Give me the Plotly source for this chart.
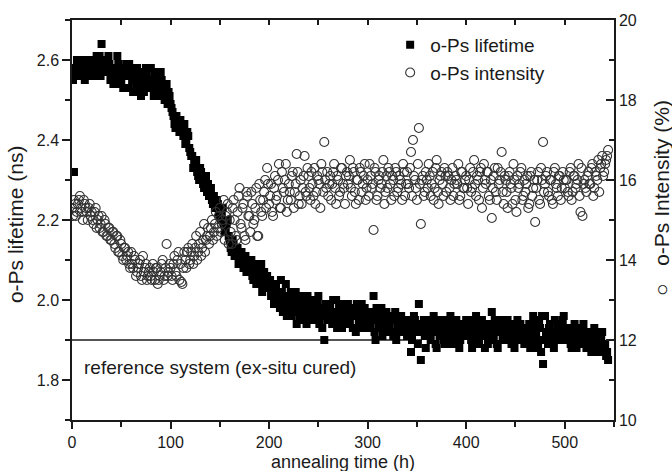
import plotly.graph_objects as go

# annealing time (h), even hours
hours = [
    0, 2, 4, 6, 8, 10, 12, 14, 16, 18,
    20, 22, 24, 26, 28, 30, 32, 34, 36, 38,
    40, 42, 44, 46, 48, 50, 52, 54, 56, 58,
    60, 62, 64, 66, 68, 70, 72, 74, 76, 78,
    80, 82, 84, 86, 88, 90, 92, 94, 96, 98,
    100, 102, 104, 106, 108, 110, 112, 114, 116, 118,
    120, 122, 124, 126, 128, 130, 132, 134, 136, 138,
    140, 142, 144, 146, 148, 150, 152, 154, 156, 158,
    160, 162, 164, 166, 168, 170, 172, 174, 176, 178,
    180, 182, 184, 186, 188, 190, 192, 194, 196, 198,
    200, 202, 204, 206, 208, 210, 212, 214, 216, 218,
    220, 222, 224, 226, 228, 230, 232, 234, 236, 238,
    240, 242, 244, 246, 248, 250, 252, 254, 256, 258,
    260, 262, 264, 266, 268, 270, 272, 274, 276, 278,
    280, 282, 284, 286, 288, 290, 292, 294, 296, 298,
    300, 302, 304, 306, 308, 310, 312, 314, 316, 318,
    320, 322, 324, 326, 328, 330, 332, 334, 336, 338,
    340, 342, 344, 346, 348, 350, 352, 354, 356, 358,
    360, 362, 364, 366, 368, 370, 372, 374, 376, 378,
    380, 382, 384, 386, 388, 390, 392, 394, 396, 398,
    400, 402, 404, 406, 408, 410, 412, 414, 416, 418,
    420, 422, 424, 426, 428, 430, 432, 434, 436, 438,
    440, 442, 444, 446, 448, 450, 452, 454, 456, 458,
    460, 462, 464, 466, 468, 470, 472, 474, 476, 478,
    480, 482, 484, 486, 488, 490, 492, 494, 496, 498,
    500, 502, 504, 506, 508, 510, 512, 514, 516, 518,
    520, 522, 524, 526, 528, 530, 532, 534, 536, 538,
    540, 542, 544,
]

# annealing time (h), odd hours
hours_odd = [
    1, 3, 5, 7, 9, 11, 13, 15, 17, 19,
    21, 23, 25, 27, 29, 31, 33, 35, 37, 39,
    41, 43, 45, 47, 49, 51, 53, 55, 57, 59,
    61, 63, 65, 67, 69, 71, 73, 75, 77, 79,
    81, 83, 85, 87, 89, 91, 93, 95, 97, 99,
    101, 103, 105, 107, 109, 111, 113, 115, 117, 119,
    121, 123, 125, 127, 129, 131, 133, 135, 137, 139,
    141, 143, 145, 147, 149, 151, 153, 155, 157, 159,
    161, 163, 165, 167, 169, 171, 173, 175, 177, 179,
    181, 183, 185, 187, 189, 191, 193, 195, 197, 199,
    201, 203, 205, 207, 209, 211, 213, 215, 217, 219,
    221, 223, 225, 227, 229, 231, 233, 235, 237, 239,
    241, 243, 245, 247, 249, 251, 253, 255, 257, 259,
    261, 263, 265, 267, 269, 271, 273, 275, 277, 279,
    281, 283, 285, 287, 289, 291, 293, 295, 297, 299,
    301, 303, 305, 307, 309, 311, 313, 315, 317, 319,
    321, 323, 325, 327, 329, 331, 333, 335, 337, 339,
    341, 343, 345, 347, 349, 351, 353, 355, 357, 359,
    361, 363, 365, 367, 369, 371, 373, 375, 377, 379,
    381, 383, 385, 387, 389, 391, 393, 395, 397, 399,
    401, 403, 405, 407, 409, 411, 413, 415, 417, 419,
    421, 423, 425, 427, 429, 431, 433, 435, 437, 439,
    441, 443, 445, 447, 449, 451, 453, 455, 457, 459,
    461, 463, 465, 467, 469, 471, 473, 475, 477, 479,
    481, 483, 485, 487, 489, 491, 493, 495, 497, 499,
    501, 503, 505, 507, 509, 511, 513, 515, 517, 519,
    521, 523, 525, 527, 529, 531, 533, 535, 537, 539,
    541, 543,
]

# o-Ps lifetime (ns) at even hours
lifetime = [
    2.57, 2.32, 2.56, 2.59, 2.58, 2.57, 2.60, 2.58, 2.56, 2.59,
    2.58, 2.60, 2.57, 2.59, 2.61, 2.64, 2.58, 2.60, 2.57, 2.59,
    2.56, 2.54, 2.58, 2.61, 2.57, 2.55, 2.53, 2.58, 2.56, 2.59,
    2.57, 2.52, 2.55, 2.58, 2.56, 2.51, 2.57, 2.54, 2.56, 2.55,
    2.58, 2.53, 2.57, 2.52, 2.55, 2.57, 2.53, 2.50, 2.54, 2.52,
    2.49, 2.47, 2.44, 2.46, 2.43, 2.45, 2.42, 2.44, 2.40, 2.41,
    2.37, 2.36, 2.34, 2.35, 2.31, 2.33, 2.30, 2.28, 2.31, 2.29,
    2.27, 2.25, 2.26, 2.23, 2.24, 2.21, 2.22, 2.19, 2.18, 2.20,
    2.15, 2.12, 2.14, 2.11, 2.13, 2.10, 2.12, 2.08, 2.11, 2.09,
    2.07, 2.10, 2.05, 2.08, 2.04, 2.06, 2.09, 2.03, 2.05, 2.06,
    2.03, 2.01, 2.04, 1.99, 2.02, 2.00, 2.05, 1.97, 2.01, 1.96,
    1.99, 2.02, 1.97, 2.00, 1.94, 1.98, 2.01, 1.96, 1.99, 1.94,
    1.97, 2.00, 1.95, 1.99, 1.96, 2.01, 1.97, 1.93, 1.90, 1.98,
    1.96, 1.99, 1.94, 1.97, 2.00, 1.95, 1.98, 1.93, 1.97, 1.95,
    1.99, 1.94, 1.97, 1.96, 1.92, 1.98, 1.95, 1.99, 1.93, 1.96,
    1.94, 1.97, 1.95, 2.01, 1.90, 1.96, 1.93, 1.98, 1.94, 1.92,
    1.96, 1.93, 1.95, 1.91, 1.97, 1.94, 1.92, 1.96, 1.93, 1.95,
    1.91, 1.94, 1.87, 1.93, 1.95, 1.92, 1.99, 1.85, 1.94, 1.91,
    1.93, 1.95, 1.90, 1.94, 1.92, 1.88, 1.95, 1.91, 1.93, 1.89,
    1.94, 1.91, 1.96, 1.92, 1.89, 1.95, 1.93, 1.90, 1.94, 1.92,
    1.95, 1.91, 1.94, 1.88, 1.93, 1.96, 1.90, 1.93, 1.95, 1.91,
    1.92, 1.89, 1.94, 1.97, 1.91, 1.93, 1.88, 1.92, 1.95, 1.90,
    1.93, 1.95, 1.91, 1.89, 1.94, 1.92, 1.95, 1.90, 1.93, 1.91,
    1.89, 1.92, 1.94, 1.90, 1.96, 1.88, 1.93, 1.95, 1.87, 1.84,
    1.96, 1.91, 1.93, 1.89, 1.92, 1.95, 1.90, 1.94, 1.91, 1.95,
    1.92, 1.90, 1.93, 1.89, 1.91, 1.94, 1.88, 1.92, 1.90, 1.93,
    1.91, 1.88, 1.92, 1.90, 1.89, 1.93, 1.87, 1.91, 1.89, 1.92,
    1.88, 1.86, 1.85,
]

# o-Ps lifetime (ns) at odd hours
lifetime_odd = [
    2.55, 2.58, 2.60, 2.56, 2.59, 2.57, 2.55, 2.60, 2.58, 2.57,
    2.59, 2.56, 2.61, 2.58, 2.56, 2.60, 2.59, 2.57, 2.61, 2.55,
    2.58, 2.57, 2.55, 2.59, 2.54, 2.58, 2.56, 2.59, 2.53, 2.57,
    2.55, 2.58, 2.53, 2.57, 2.54, 2.56, 2.52, 2.58, 2.55, 2.53,
    2.55, 2.51, 2.56, 2.54, 2.51, 2.55, 2.52, 2.54, 2.49, 2.51,
    2.48, 2.46, 2.43, 2.45, 2.42, 2.44, 2.41, 2.39, 2.42, 2.38,
    2.36, 2.33, 2.35, 2.32, 2.30, 2.32, 2.29, 2.31, 2.27, 2.26,
    2.28, 2.24, 2.23, 2.25, 2.22, 2.20, 2.23, 2.17, 2.19, 2.16,
    2.13, 2.15, 2.11, 2.13, 2.09, 2.12, 2.10, 2.11, 2.07, 2.10,
    2.08, 2.06, 2.09, 2.04, 2.07, 2.05, 2.02, 2.07, 2.04, 2.03,
    2.05, 2.02, 1.99, 2.03, 2.00, 1.98, 2.02, 1.99, 2.04, 1.98,
    2.01, 1.96, 1.99, 2.02, 1.97, 1.95, 2.00, 1.98, 1.96, 2.01,
    1.98, 1.95, 1.99, 1.97, 2.00, 1.94, 1.98, 1.96, 1.99, 1.95,
    1.98, 1.95, 2.00, 1.96, 1.93, 1.98, 1.96, 1.99, 1.94, 1.97,
    1.96, 1.98, 1.93, 1.97, 1.99, 1.94, 1.96, 1.93, 1.98, 1.95,
    1.97, 1.93, 1.96, 1.92, 1.98, 1.94, 1.96, 1.91, 1.95, 1.97,
    1.93, 1.96, 1.92, 1.95, 1.90, 1.94, 1.96, 1.92, 1.95, 1.93,
    1.95, 1.92, 1.90, 1.96, 1.93, 1.89, 1.94, 1.92, 1.95, 1.88,
    1.91, 1.94, 1.92, 1.96, 1.89, 1.93, 1.91, 1.94, 1.90, 1.95,
    1.92, 1.89, 1.94, 1.91, 1.95, 1.92, 1.88, 1.93, 1.91, 1.94,
    1.92, 1.95, 1.90, 1.93, 1.91, 1.94, 1.89, 1.95, 1.92, 1.88,
    1.94, 1.91, 1.93, 1.90, 1.95, 1.89, 1.92, 1.94, 1.91, 1.93,
    1.90, 1.92, 1.94, 1.91, 1.88, 1.93, 1.90, 1.94, 1.92, 1.89,
    1.93, 1.90, 1.88, 1.92, 1.94, 1.91, 1.89, 1.93, 1.96, 1.90,
    1.92, 1.89, 1.94, 1.91, 1.88, 1.92, 1.94, 1.90, 1.93, 1.96,
    1.90, 1.93, 1.91, 1.88, 1.92, 1.90, 1.93, 1.89, 1.91, 1.94,
    1.89, 1.92, 1.90, 1.87, 1.91, 1.89, 1.92, 1.88, 1.90, 1.87,
    1.89, 1.87,
]

# o-Ps intensity (%) at even hours
intensity = [
    15.3, 15.5, 15.1, 15.4, 15.6, 15.2, 15.5, 15.3, 15.0, 15.4,
    15.2, 14.9, 15.3, 15.0, 14.8, 15.1, 14.7, 14.9, 14.6, 14.8,
    14.5, 14.7, 14.3, 14.6, 14.2, 14.4, 14.0, 14.3, 14.1, 13.9,
    14.2, 13.8, 14.0, 13.7, 13.9, 13.6, 14.1, 13.8, 13.5, 13.7,
    13.6, 13.9, 13.5, 13.8, 13.5, 13.7, 14.0, 13.6, 14.4, 13.7,
    13.8, 13.5, 14.1, 13.6, 14.2, 13.9, 13.4, 14.2, 13.8, 14.3,
    14.0, 14.4, 14.1, 14.6, 14.2, 14.7, 14.3, 14.9, 14.5, 14.8,
    14.6, 15.0, 14.7, 15.2, 14.8, 15.3, 14.9, 15.5, 15.1, 15.4,
    15.0, 14.4, 15.5, 14.6, 15.2, 15.8, 14.8, 15.4, 14.5, 15.6,
    15.1, 15.7, 14.9, 15.3, 14.6, 15.9, 15.2, 15.5, 16.0, 16.3,
    15.4, 15.9, 15.1, 16.1, 15.6, 16.4, 15.3, 15.8, 16.0, 15.2,
    15.9, 15.5, 16.2, 15.7, 16.65, 15.4, 16.0, 15.8, 16.6, 15.6,
    16.1, 15.5, 15.9, 16.3, 15.7, 16.0, 15.3, 16.2, 16.95, 15.8,
    15.6, 16.1, 15.9, 16.4, 15.4, 16.0, 15.7, 16.3, 15.8, 16.1,
    15.9, 16.5, 15.6, 16.2, 15.4, 16.0, 16.3, 15.7, 16.1, 15.5,
    16.0, 16.4, 15.8, 14.75, 16.2, 15.6, 16.1, 15.9, 16.5, 15.7,
    15.8, 16.2, 15.5, 16.0, 16.3, 15.7, 16.1, 15.9, 16.4, 15.6,
    16.2, 15.8, 16.7, 17.0, 16.0, 15.5, 17.3, 14.9, 16.1, 15.7,
    16.0, 16.4, 15.6, 16.2, 15.8, 16.5, 15.4, 16.1, 15.9, 16.3,
    15.7, 16.1, 15.5, 16.3, 15.9, 16.0, 16.4, 15.6, 16.2, 15.8,
    16.1, 15.4, 16.3, 15.8, 16.5, 15.6, 16.0, 16.2, 15.3, 16.4,
    15.9, 16.2, 15.5, 15.05, 16.1, 15.7, 16.3, 16.0, 16.7, 15.4,
    16.0, 15.3, 16.2, 15.8, 16.4, 15.5, 16.1, 15.9, 16.3, 15.6,
    15.7, 16.1, 15.4, 16.2, 15.8, 14.95, 16.0, 15.5, 16.3, 16.95,
    15.9, 16.2, 15.6, 16.0, 15.4, 16.3, 15.8, 16.1, 15.5, 16.2,
    15.8, 16.0, 15.6, 16.3, 15.7, 16.1, 15.9, 16.4, 15.2, 15.1,
    16.0, 15.7, 16.2, 15.9, 16.4, 15.8, 16.1, 16.5, 16.3, 16.6,
    16.2, 16.5, 16.75,
]

# o-Ps intensity (%) at odd hours
intensity_odd = [
    15.1, 15.4, 15.2, 15.5, 15.3, 15.0, 15.4, 15.2, 15.3, 15.1,
    15.0, 15.2, 14.8, 15.1, 14.9, 14.7, 15.0, 14.6, 14.8, 14.5,
    14.7, 14.4, 14.6, 14.2, 14.5, 14.1, 14.3, 14.0, 14.2, 13.8,
    13.9, 14.1, 13.6, 13.8, 14.0, 13.5, 13.7, 13.9, 13.6, 13.8,
    13.5, 13.7, 13.8, 13.4, 13.6, 13.9, 13.5, 13.8, 13.6, 13.9,
    13.6, 13.9, 13.7, 14.0, 13.5, 13.45, 13.8, 14.0, 14.2, 13.9,
    14.2, 13.9, 14.3, 14.0, 14.4, 14.1, 14.5, 14.2, 14.6, 14.4,
    14.8, 14.5, 14.9, 14.6, 15.1, 14.7, 15.0, 14.5, 15.2, 14.4,
    14.7, 15.3, 15.0, 14.5, 15.6, 14.9, 15.3, 14.6, 15.7, 15.1,
    14.7, 15.4, 15.0, 15.8, 14.6, 15.5, 15.1, 15.7, 15.3, 15.9,
    15.6, 15.2, 15.8, 15.5, 16.0, 15.3, 16.2, 15.7, 16.4, 15.5,
    15.7, 16.1, 15.3, 15.9, 16.2, 15.6, 15.4, 16.1, 15.7, 16.3,
    15.8, 16.2, 15.6, 15.4, 16.1, 15.9, 16.4, 15.7, 16.0, 16.2,
    15.9, 15.5, 16.2, 15.8, 16.1, 15.6, 16.3, 15.9, 15.4, 16.2,
    16.1, 15.8, 16.3, 15.7, 16.0, 15.5, 16.2, 15.9, 16.4, 15.8,
    15.6, 16.1, 15.9, 16.3, 15.5, 16.0, 15.8, 16.2, 15.4, 16.1,
    16.3, 15.9, 16.1, 15.6, 16.2, 15.8, 16.0, 15.5, 16.2, 15.9,
    15.9, 16.3, 15.6, 16.1, 15.8, 16.4, 15.9, 16.0, 15.6, 16.2,
    15.8, 16.1, 15.9, 15.5, 16.3, 15.7, 16.0, 16.2, 15.6, 16.1,
    16.2, 15.8, 16.0, 15.6, 16.1, 15.9, 15.5, 16.2, 15.8, 16.0,
    15.8, 16.0, 15.7, 16.2, 15.9, 16.1, 15.5, 16.3, 15.8, 16.0,
    16.2, 15.6, 16.0, 15.8, 16.3, 15.5, 15.9, 16.2, 15.7, 16.1,
    15.7, 16.1, 15.9, 15.4, 16.0, 15.2, 15.8, 16.2, 15.5, 16.0,
    15.9, 15.3, 16.1, 15.6, 16.0, 15.8, 16.2, 15.4, 16.0, 15.7,
    16.1, 15.7, 16.0, 15.5, 16.2, 15.9, 15.6, 16.1, 15.8, 16.0,
    16.0, 15.7, 16.2, 15.5, 16.1, 15.8, 16.0, 15.6, 16.3, 15.9,
    15.8, 16.1, 15.9, 16.3, 15.6, 16.2, 16.0, 15.7, 16.4, 16.1,
    16.4, 16.6,
]

# reference system (ex-situ cured) level
ref_hours = [0, 355]
ref_lifetime = [1.9, 1.9]

FONT = "Liberation Sans, Arial, Helvetica, sans-serif"
INK = "#1a1a1a"

fig = go.Figure()

fig.add_trace(go.Scatter(
    x=ref_hours, y=ref_lifetime, mode="lines",
    line=dict(color=INK, width=1.3), showlegend=False, hoverinfo="skip",
))

fig.add_trace(go.Scatter(
    x=hours + hours_odd, y=lifetime + lifetime_odd, mode="markers",
    name="o-Ps lifetime",
    marker=dict(symbol="square", size=8, color="black", line=dict(width=0)),
))

fig.add_trace(go.Scatter(
    x=hours + hours_odd, y=intensity + intensity_odd, mode="markers",
    name="o-Ps intensity", yaxis="y2",
    marker=dict(symbol="circle-open", size=9, color="#333333",
                line=dict(width=1.1)),
))

# dummy trace to activate the mirrored top axis
fig.add_trace(go.Scatter(x=[None], y=[None], xaxis="x2", yaxis="y",
                         showlegend=False, hoverinfo="skip"))

axis_common = dict(showline=True, linecolor=INK, linewidth=1.5, showgrid=False,
                   zeroline=False, tickcolor=INK, tickwidth=1.5,
                   tickfont=dict(family=FONT, size=16, color=INK))

fig.update_layout(
    width=672, height=471,
    margin=dict(l=72, r=58, t=20, b=51),
    paper_bgcolor="white", plot_bgcolor="white",
    font=dict(family=FONT, size=16, color=INK),
    xaxis=dict(range=[0, 550], tickvals=[0, 100, 200, 300, 400, 500],
               ticks="outside", ticklen=7,
               minor=dict(dtick=50, tick0=0, ticks="outside", ticklen=5,
                          tickcolor=INK, tickwidth=1.5),
               **axis_common),
    xaxis2=dict(range=[0, 550], overlaying="x", side="top", showticklabels=False,
                tickvals=[0, 50, 100, 150, 200, 250, 300, 350, 400, 450, 500, 550],
                ticks="inside", ticklen=5, **axis_common),
    yaxis=dict(range=[1.7, 2.7], tickvals=[1.8, 2.0, 2.2, 2.4, 2.6],
               tickformat=".1f", ticks="outside", ticklen=8,
               minor=dict(dtick=0.1, tick0=1.7, ticks="outside", ticklen=5,
                          tickcolor=INK, tickwidth=1.5),
               **axis_common),
    yaxis2=dict(range=[10, 20], tickvals=[10, 12, 14, 16, 18, 20],
                overlaying="y", side="right", ticks="inside", ticklen=8,
                minor=dict(dtick=1, tick0=10, ticks="inside", ticklen=5,
                           tickcolor=INK, tickwidth=1.5),
                **axis_common),
    legend=dict(x=0.587, y=0.985, xanchor="left", yanchor="top",
                bgcolor="rgba(0,0,0,0)", font=dict(family=FONT, size=19, color=INK),
                tracegroupgap=0),
    showlegend=True,
)

fig.add_annotation(text="o-Ps lifetime (ns)", xref="paper", yref="paper",
                   x=-0.105, y=0.49, xanchor="center", yanchor="middle",
                   textangle=-90, showarrow=False,
                   font=dict(family=FONT, size=21, color=INK))
fig.add_annotation(text="○   o-Ps Intensity (%)", xref="paper", yref="paper",
                   x=1.0886, y=0.555, xanchor="center", yanchor="middle",
                   textangle=-90, showarrow=False,
                   font=dict(family=FONT, size=21, color=INK))
fig.add_annotation(text="annealing time (h)", xref="paper", yref="paper",
                   x=0.5, y=-0.105, xanchor="center", yanchor="middle",
                   showarrow=False,
                   font=dict(family=FONT, size=18, color=INK))
fig.add_annotation(text="reference system (ex-situ cured)", xref="x", yref="y",
                   x=10.5, y=1.832, xanchor="left", yanchor="middle",
                   showarrow=False,
                   font=dict(family=FONT, size=19, color=INK))

fig.write_html("out.html", config={"displayModeBar": False},
               post_script="document.body.style.margin='0';")
